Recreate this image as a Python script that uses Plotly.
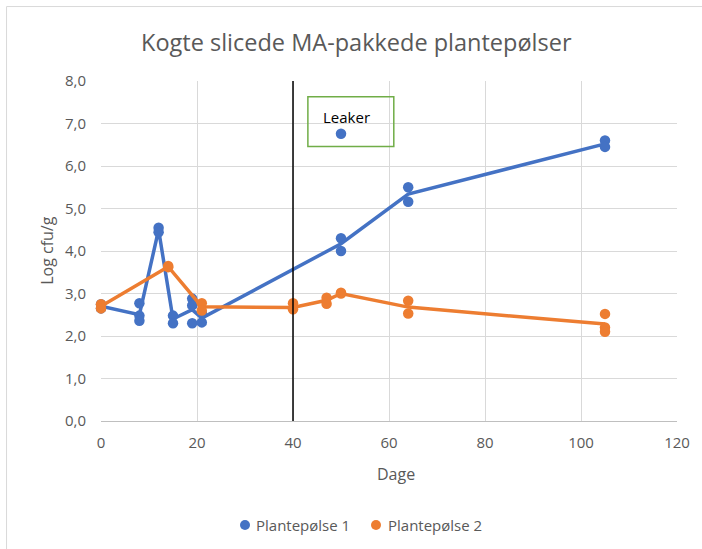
import plotly.graph_objects as go

# ---- Data ----
p1_days = [0, 0, 8, 8, 8, 12, 12, 15, 15, 19, 19, 19, 21, 21, 50, 50, 50, 64, 64, 105, 105]
p1_vals = [2.75, 2.65, 2.77, 2.48, 2.36, 4.55, 4.44, 2.48, 2.30, 2.88, 2.72, 2.30, 2.55, 2.32, 4.30, 4.00, 6.76, 5.50, 5.16, 6.60, 6.45]

p2_days = [0, 0, 14, 14, 21, 21, 40, 40, 47, 47, 50, 50, 64, 64, 105, 105, 105]
p2_vals = [2.75, 2.65, 3.65, 3.62, 2.77, 2.60, 2.77, 2.63, 2.90, 2.76, 3.02, 3.00, 2.83, 2.53, 2.52, 2.20, 2.10]

p1_line_days = [0, 8, 12, 15, 19, 21, 50, 64, 105]
p1_line_vals = [2.70, 2.50, 4.50, 2.40, 2.62, 2.42, 4.17, 5.34, 6.52]

p2_line_days = [0, 14, 21, 40, 47, 50, 64, 105]
p2_line_vals = [2.70, 3.63, 2.69, 2.67, 2.84, 3.00, 2.68, 2.28]

y_ticks = [0, 1, 2, 3, 4, 5, 6, 7, 8]
y_tick_labels = ["0,0", "1,0", "2,0", "3,0", "4,0", "5,0", "6,0", "7,0", "8,0"]
x_ticks = [0, 20, 40, 60, 80, 100, 120]

names = ["Plantepølse 1", "Plantepølse 2"]
title_text = "Kogte slicede MA-pakkede plantepølser"

BLUE = "#4472C4"
ORANGE = "#ED7D31"
TXT = "#595959"
FONT = "Open Sans"

fig = go.Figure()
fig.add_trace(go.Scatter(x=p1_line_days, y=p1_line_vals, mode="lines",
                         line=dict(color=BLUE, width=3.5), showlegend=False,
                         cliponaxis=False, hoverinfo="skip"))
fig.add_trace(go.Scatter(x=p1_days, y=p1_vals, mode="markers", name=names[0],
                         marker=dict(color=BLUE, size=10.5), cliponaxis=False,
                         showlegend=False))
fig.add_trace(go.Scatter(x=p2_line_days, y=p2_line_vals, mode="lines",
                         line=dict(color=ORANGE, width=3.5), showlegend=False,
                         cliponaxis=False, hoverinfo="skip"))
fig.add_trace(go.Scatter(x=p2_days, y=p2_vals, mode="markers", name=names[1],
                         marker=dict(color=ORANGE, size=10.5), cliponaxis=False,
                         showlegend=False))

# vertical black line at day 40
fig.add_shape(type="line", xref="x", yref="y", x0=40, x1=40, y0=0, y1=8,
              line=dict(color="black", width=1.5))
# Leaker box
fig.add_shape(type="rect", xref="x", yref="y", x0=43.1, x1=61.0, y0=6.46, y1=7.63,
              line=dict(color="#70AD47", width=1.5))
fig.add_annotation(x=51.2, y=7.16, xref="x", yref="y", text="Leaker", showarrow=False,
                   xanchor="center", yanchor="middle",
                   font=dict(family=FONT, size=15, color="black"))

# chart border (left and top visible)
fig.add_shape(type="line", xref="paper", yref="paper", x0=-0.164, x1=-0.164, y0=-0.5, y1=1.219,
              line=dict(color="#D9D9D9", width=1))
fig.add_shape(type="line", xref="paper", yref="paper", x0=-0.164, x1=1.2, y0=1.219, y1=1.219,
              line=dict(color="#D9D9D9", width=1))

# title and axis titles
fig.add_annotation(x=0.4436, y=1.1147, xref="paper", yref="paper", text=title_text,
                   xanchor="center", yanchor="middle",
                   showarrow=False, font=dict(family=FONT, size=23.5, color=TXT))
fig.add_annotation(x=0.512, y=-0.156, xref="paper", yref="paper", text="Dage",
                   xanchor="center", yanchor="middle",
                   showarrow=False, font=dict(family=FONT, size=16, color=TXT))
fig.add_annotation(x=-0.094, y=0.503, xref="paper", yref="paper", text="Log cfu/g",
                   xanchor="center", yanchor="middle",
                   textangle=-90, showarrow=False, font=dict(family=FONT, size=16, color=TXT))

# custom legend (marker + label), positioned in paper coordinates
W, H, L, T = 702, 549, 101, 81
PW, PH = W - L - 25, 340
def px2paper(px, py):
    return (px - L) / PW, (T + PH - py) / PH

for (mx, tx, col, nm) in [(245, 254, BLUE, names[0]), (376, 386, ORANGE, names[1])]:
    cx, cy = px2paper(mx, 525)
    rx, ry = 5 / PW, 5 / PH
    fig.add_shape(type="circle", xref="paper", yref="paper",
                  x0=cx - rx, x1=cx + rx, y0=cy - ry, y1=cy + ry,
                  fillcolor=col, line=dict(color=col, width=0))
    ax, ay = px2paper(tx, 525)
    fig.add_annotation(x=ax, y=ay, xref="paper", yref="paper", text=nm, showarrow=False,
                       xanchor="left", yanchor="middle",
                       font=dict(family=FONT, size=15, color=TXT))

fig.update_layout(
    width=W, height=H,
    margin=dict(l=L, r=25, t=T, b=128),
    paper_bgcolor="white", plot_bgcolor="white",
    font=dict(family=FONT, size=15, color=TXT),
    showlegend=False,
    xaxis=dict(range=[0, 120], tickvals=x_ticks, showgrid=True, gridcolor="#D9D9D9",
               gridwidth=1, zeroline=False, showline=True, linecolor="#BFBFBF",
               ticks="", ticklabelstandoff=8, tickfont=dict(size=15, color=TXT)),
    yaxis=dict(range=[0, 8], tickvals=y_ticks, ticktext=y_tick_labels, showgrid=True,
               gridcolor="#D9D9D9", gridwidth=1, zeroline=False, showline=False,
               ticks="", ticklabelstandoff=14, tickfont=dict(size=15, color=TXT)),
)

fig.write_html("out.html", config={"displayModeBar": False},
               post_script="document.body.style.margin='0';")
